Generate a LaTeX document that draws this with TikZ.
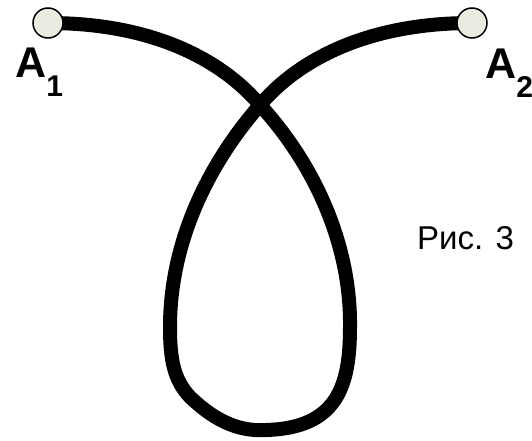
\documentclass[tikz,border=0pt]{standalone}
\usepackage{fontspec}
\setmainfont{Liberation Sans}
\usetikzlibrary{backgrounds}
\definecolor{pinfill}{HTML}{ECEBE1}

\begin{document}
\begin{tikzpicture}[
  x=1pt, y=-1pt,
  endpt/.style={circle, draw=black, line width=1.5pt, fill=pinfill,
                minimum size=30pt, inner sep=0pt},
  wire/.style={line width=14pt, black, line join=round},
  lbl/.style={anchor=base west, inner sep=0pt, font=\fontsize{43}{43}\selectfont\bfseries},
  caption/.style={anchor=base west, inner sep=0pt, font=\fontsize{33}{33}\selectfont}
]
\useasboundingbox (0,0) rectangle (532,441);
\node[endpt] (a1) at (48,23) {};
\node[endpt] (a2) at (472,23) {};
\coordinate (cross) at (260,105);
\coordinate (rside) at (350,327);
\coordinate (bottom) at (266,430);
\coordinate (bleft) at (190,397);
\coordinate (lside) at (170,327);
\node[lbl] (a1lbl) at (15,78) {A\raisebox{-19pt}{\fontsize{30}{30}\selectfont 1}};
\node[lbl] (a2lbl) at (485,79) {A\raisebox{-19pt}{\fontsize{30}{30}\selectfont 2}};
\node[caption] (fig) at (417,249) {Рис. 3};
\begin{scope}[on background layer]
\draw[wire] (a1.center) .. controls (150,23) and (220,58) .. (cross)
  .. controls (315,165) and (351,245) .. (rside)
  .. controls (350,385) and (338,428) .. (bottom)
  .. controls (236,432) and (212,418) .. (bleft)
  .. controls (174,380) and (170,360) .. (lside)
  .. controls (170,240) and (210,162) .. (cross)
  .. controls (300,58) and (370,23) .. (a2.center);
\end{scope}
\end{tikzpicture}
\end{document}
